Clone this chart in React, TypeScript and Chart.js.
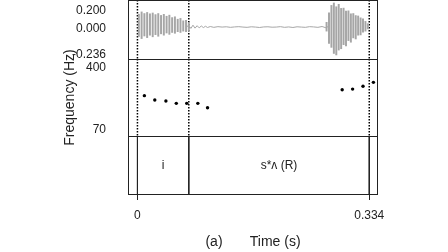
import { useEffect, useRef } from "react";
import { Chart, registerables } from "chart.js";

Chart.register(...registerables);

// ---- axis domains ----
const timeMin = -0.0136;
const timeMax = 0.3466;
const waveMin = -0.236;
const waveMax = 0.2;
const pitchMin = 70;
const pitchMax = 400;

// ---- tick labels ----
const waveTicks = [-0.236, 0, 0.2];
const waveTickLabels = ["-0.236", "0.000", "0.200"];
const pitchTicks = [70, 400];
const pitchTickLabels = ["70", "400"];
const xTickValues = [0, 0.334];
const xTickLabels = ["0", "0.334"];

// ---- text grid ----
const boundaries = [0, 0.074, 0.334];
const tierLabels = ["i", "s*ʌ (R)"];

// ---- pitch track (Hz) ----
const pitchTimes = [0.010, 0.025, 0.041, 0.056, 0.071, 0.087, 0.101, 0.295, 0.310, 0.325, 0.340];
const pitchHz = [243, 224, 220, 210, 210, 210, 191, 268, 271, 283, 300];

// ---- waveform: vowel "i" periods (max / min per period) ----
const vowelTimes = [0.002, 0.006, 0.010, 0.014, 0.018, 0.022, 0.026, 0.030, 0.034, 0.038, 0.042, 0.046, 0.050, 0.054, 0.058, 0.062, 0.066, 0.070, 0.074];
const vowelMax = [0.095, 0.112, 0.100, 0.108, 0.098, 0.104, 0.092, 0.100, 0.086, 0.094, 0.080, 0.088, 0.070, 0.076, 0.058, 0.064, 0.046, 0.050, 0.034];
const vowelMin = [-0.070, -0.085, -0.066, -0.078, -0.060, -0.072, -0.056, -0.068, -0.050, -0.060, -0.044, -0.054, -0.040, -0.046, -0.034, -0.040, -0.030, -0.034, -0.026];

// ---- waveform: final burst periods ----
const burstTimes = [0.2725, 0.2760, 0.2795, 0.2830, 0.2865, 0.2900, 0.2935, 0.2970, 0.3005, 0.3040, 0.3075, 0.3110, 0.3145, 0.3180, 0.3215, 0.3250, 0.3285, 0.3320];
const burstMax = [0.035, 0.105, 0.160, 0.178, 0.150, 0.168, 0.138, 0.140, 0.118, 0.120, 0.098, 0.100, 0.085, 0.082, 0.068, 0.060, 0.042, 0.025];
const burstMin = [-0.030, -0.120, -0.150, -0.195, -0.206, -0.170, -0.160, -0.130, -0.140, -0.100, -0.112, -0.080, -0.088, -0.060, -0.058, -0.038, -0.030, -0.014];

// ---- waveform: quiet stretch ----
const quietTimes = [0.070, 0.074, 0.077, 0.080, 0.083, 0.086, 0.089, 0.092, 0.095, 0.098, 0.101, 0.105, 0.110, 0.116, 0.122, 0.128, 0.134, 0.140, 0.146, 0.152, 0.158, 0.164, 0.170, 0.176, 0.182, 0.188, 0.194, 0.200, 0.206, 0.212, 0.218, 0.224, 0.230, 0.236, 0.242, 0.248, 0.254, 0.260, 0.266, 0.272, 0.276];
const quietValues = [0.000, 0.012, -0.010, 0.014, -0.008, 0.010, -0.006, 0.008, -0.004, 0.006, -0.003, 0.004, -0.002, 0.003, 0.000, 0.002, -0.002, 0.001, 0.003, 0.000, -0.002, 0.002, 0.000, -0.003, 0.001, 0.002, -0.001, 0.000, 0.003, -0.002, 0.001, -0.003, 0.002, 0.000, -0.002, 0.003, 0.001, -0.002, 0.004, -0.006, 0.010];

const FONT = '"Liberation Sans", Arial, sans-serif';
const INK = "#222";
const WAVE = "#a6a6a6";

const near = (a: number, b: number) => Math.abs(a - b) < 1e-9;

const edgeLabel = (value: number, vals: number[], labels: string[], lo: number, hi: number) => {
  const i = vals.findIndex((v) => near(v, value));
  const lab = i >= 0 ? labels[i] : "";
  if (near(value, hi)) return ["", lab];
  if (near(value, lo)) return [lab, ""];
  return lab;
};

// top-edge labels sit a little further inward than bottom-edge labels
const edgeFont = (lo: number, hi: number) => (c: any) => {
  const v = c.tick ? c.tick.value : NaN;
  let lh = 1.2;
  if (near(v, hi)) lh = 1.5;
  else if (near(v, lo)) lh = 1.05;
  return { size: 12, lineHeight: lh };
};

const fitY = (s: any) => {
  s.width = 128;
  s.paddingTop = 0;
  s.paddingBottom = 0;
};

const panelPlugin = {
  id: "panels",
  afterDatasetsDraw(chart: any) {
    const { ctx, chartArea, scales } = chart;
    ctx.save();
    ctx.strokeStyle = INK;
    ctx.lineWidth = 1;
    const L = Math.round(chartArea.left) + 0.5;
    const R = Math.round(chartArea.right) - 0.5;
    ["yWave", "yPitch", "yText"].forEach((id) => {
      const s = scales[id];
      const T = Math.round(s.top) + 0.5;
      const B = Math.round(s.bottom) + 0.5;
      ctx.strokeRect(L, T, R - L, B - T);
    });
    ctx.fillStyle = INK;
    ctx.font = `12px ${FONT}`;
    ctx.textAlign = "center";
    ctx.textBaseline = "middle";
    const yMid = scales.yText.getPixelForValue(0.5) + 1;
    tierLabels.forEach((lab, i) => {
      const x = scales.x.getPixelForValue((boundaries[i] + boundaries[i + 1]) / 2);
      ctx.fillText(lab, x, yMid);
    });
    ctx.restore();
  },
};

export default function App() {
  const ref = useRef<HTMLCanvasElement | null>(null);

  useEffect(() => {
    if (!ref.current) return;
    Chart.defaults.font.family = FONT;
    Chart.defaults.color = INK;

    const vowelBars = vowelTimes.map((t, i) => ({ x: t, y: [vowelMin[i], vowelMax[i]] }));
    const burstBars = burstTimes.map((t, i) => ({ x: t, y: [burstMin[i], burstMax[i]] }));
    const quietLine = quietTimes.map((t, i) => ({ x: t, y: quietValues[i] }));
    const pitchPts = pitchTimes.map((t, i) => ({ x: t, y: pitchHz[i] }));
    const waveDots = boundaries.flatMap((b) => [
      { x: b, y: waveMax },
      { x: b, y: waveMin },
      { x: b, y: null },
    ]);
    const pitchDots = boundaries.flatMap((b) => [
      { x: b, y: pitchMax },
      { x: b, y: pitchMin },
      { x: b, y: null },
    ]);
    const tierLines = boundaries.flatMap((b) => [
      { x: b, y: 1 },
      { x: b, y: 0 },
      { x: b, y: null },
    ]);

    const chart = new Chart(ref.current, {
      type: "scatter",
      data: {
        datasets: [
          {
            type: "line",
            data: quietLine as any,
            yAxisID: "yWave",
            borderColor: WAVE,
            borderWidth: 1,
            pointRadius: 0,
            pointHoverRadius: 0,
          },
          {
            type: "bar",
            data: vowelBars as any,
            yAxisID: "yWave",
            backgroundColor: WAVE,
            borderWidth: 0,
            barThickness: 1.3,
            grouped: false,
          },
          {
            type: "bar",
            data: burstBars as any,
            yAxisID: "yWave",
            backgroundColor: WAVE,
            borderWidth: 0,
            barThickness: 1.3,
            grouped: false,
          },
          {
            type: "line",
            data: waveDots as any,
            yAxisID: "yWave",
            borderColor: "#000",
            borderWidth: 1.5,
            borderDash: [1.5, 1.5],
            pointRadius: 0,
            pointHoverRadius: 0,
            spanGaps: false,
          },
          {
            type: "line",
            data: pitchDots as any,
            yAxisID: "yPitch",
            borderColor: "#000",
            borderWidth: 1.5,
            borderDash: [1.5, 1.5],
            pointRadius: 0,
            pointHoverRadius: 0,
            spanGaps: false,
          },
          {
            type: "scatter",
            data: pitchPts as any,
            yAxisID: "yPitch",
            backgroundColor: "#000",
            borderWidth: 0,
            pointRadius: 1.7,
            pointHoverRadius: 1.7,
          },
          {
            type: "line",
            data: tierLines as any,
            yAxisID: "yText",
            borderColor: INK,
            borderWidth: 1,
            pointRadius: 0,
            pointHoverRadius: 0,
            spanGaps: false,
          },
        ],
      },
      options: {
        animation: false,
        responsive: false,
        devicePixelRatio: 1,
        events: [],
        layout: { autoPadding: false, padding: { left: 0, right: 70, top: 0, bottom: 0 } },
        plugins: { legend: { display: false }, tooltip: { enabled: false } },
        scales: {
          x: {
            type: "linear",
            position: "bottom",
            min: timeMin,
            max: timeMax,
            offset: false,
            afterBuildTicks: (s: any) => {
              s.ticks = xTickValues.map((v) => ({ value: v }));
            },
            afterFit: (s: any) => {
              s.height = 58;
              s.paddingLeft = 0;
              s.paddingRight = 0;
            },
            ticks: {
              autoSkip: false,
              maxRotation: 0,
              padding: 8,
              font: { size: 12 },
              color: INK,
              callback: (v: any) => {
                const i = xTickValues.findIndex((t) => near(t, v));
                return i >= 0 ? xTickLabels[i] : "";
              },
            },
            grid: {
              display: true,
              drawOnChartArea: false,
              drawTicks: true,
              tickLength: 6,
              color: INK,
              offset: false,
            },
            border: { display: false },
            title: {
              display: true,
              text: "(a)       Time (s)",
              font: { size: 14 },
              color: INK,
              padding: { top: 0, bottom: 1 },
            },
          },
          yWave: {
            type: "linear",
            position: "left",
            stack: "panels",
            stackWeight: 59,
            weight: 3,
            min: waveMin,
            max: waveMax,
            afterBuildTicks: (s: any) => {
              s.ticks = waveTicks.map((v) => ({ value: v }));
            },
            afterFit: fitY,
            ticks: {
              autoSkip: false,
              padding: 14,
              labelOffset: 2,
              font: edgeFont(waveMin, waveMax),
              color: INK,
              callback: (v: any) => edgeLabel(v, waveTicks, waveTickLabels, waveMin, waveMax),
            },
            grid: { display: false },
            border: { display: false },
          },
          yPitch: {
            type: "linear",
            position: "left",
            stack: "panels",
            stackWeight: 77,
            weight: 2,
            min: pitchMin,
            max: pitchMax,
            afterBuildTicks: (s: any) => {
              s.ticks = pitchTicks.map((v) => ({ value: v }));
            },
            afterFit: fitY,
            ticks: {
              autoSkip: false,
              padding: 14,
              font: edgeFont(pitchMin, pitchMax),
              color: INK,
              callback: (v: any) => edgeLabel(v, pitchTicks, pitchTickLabels, pitchMin, pitchMax),
            },
            grid: { display: false },
            border: { display: false },
            title: {
              display: true,
              text: "Frequency (Hz)",
              font: { size: 14 },
              color: INK,
              padding: { top: 62, bottom: 0 },
            },
          },
          yText: {
            type: "linear",
            position: "left",
            stack: "panels",
            stackWeight: 58,
            weight: 1,
            min: 0,
            max: 1,
            afterFit: fitY,
            ticks: { display: false },
            grid: { display: false },
            border: { display: false },
          },
        },
      } as any,
      plugins: [panelPlugin],
    });

    return () => chart.destroy();
  }, []);

  return (
    <div style={{ position: "fixed", left: 0, top: 0, width: 448, height: 252, background: "#fff" }}>
      <canvas ref={ref} width={448} height={252} />
    </div>
  );
}
